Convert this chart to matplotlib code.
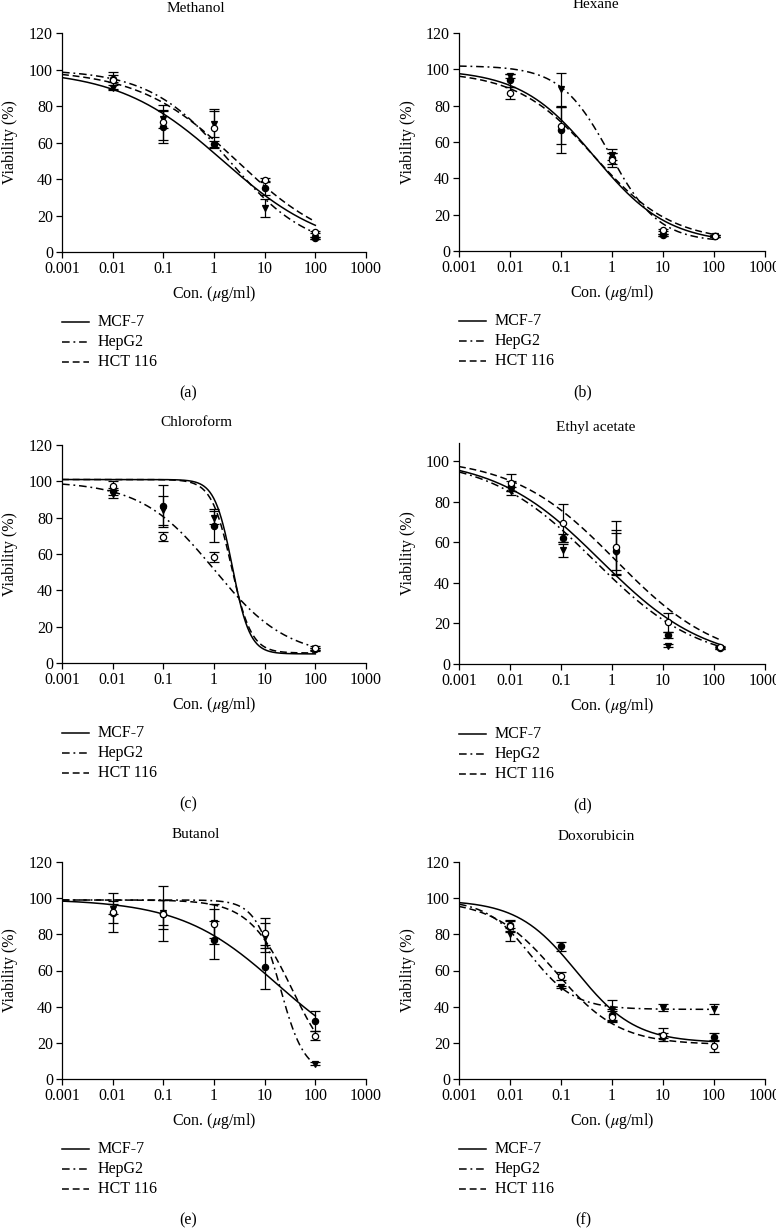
import numpy as np
import matplotlib
matplotlib.use("Agg")
import matplotlib.pyplot as plt
from matplotlib.lines import Line2D

plt.rcParams['font.family'] = ['Liberation Serif', 'DejaVu Serif']
plt.rcParams['mathtext.fontset'] = 'stix'

W, H = 776, 1229

cells = ["MCF-7", "HepG2", "HCT 116"]

# Methanol
meth_x = [0.01, 0.1, 1, 10, 100]
meth_mcf7 = [95, 68.5, 59, 35, 7.5]
meth_mcf7_err = [2, 9, 2, 4, 0.5]
meth_hepg2 = [90, 73, 70, 24, 7.5]
meth_hepg2_err = [1.5, 5, 7, 5, 0.5]
meth_hct = [94, 71, 68, 39.5, 11]
meth_hct_err = [4.5, 9.5, 10.5, 1, 0.5]
# fitted curves: top, bottom, IC50, hill
meth_fit_mcf7 = [100, 0, 1.5, 0.42]
meth_fit_hepg2 = [100, 0, 2.0, 0.55]
meth_fit_hct = [100, 0, 2.8, 0.45]

# Hexane
hex_x = [0.01, 0.1, 1, 10, 105]
hex_mcf7 = [94, 66.5, 51, 9, 8.3]
hex_mcf7_err = [3.5, 12.5, 3, 0.5, 0.5]
hex_hepg2 = [96.5, 89, 53, 9, 8.3]
hex_hepg2_err = [1, 9, 3, 0.5, 0.5]
hex_hct = [87, 69, 50, 11.6, 8.3]
hex_hct_err = [3.5, 10, 4, 0.5, 0.5]
hex_fit_mcf7 = [100, 4, 0.45, 0.6]
hex_fit_hepg2 = [102, 5, 0.9, 0.9]
hex_fit_hct = [99, 5, 0.45, 0.57]

# Chloroform
chl_x = [0.01, 0.1, 1, 100]
chl_mcf7 = [94.5, 86.5, 75.5, 7.5]
chl_mcf7_err = [2, 11.5, 9, 0.5]
chl_hepg2 = [93, 84, 80, 7.5]
chl_hepg2_err = [2, 8, 3.7, 0.5]
chl_hct = [97.5, 69.5, 58.5, 8]
chl_hct_err = [2.5, 2.5, 2.8, 1.5]
chl_fit_mcf7 = [101, 5, 2.3, 2.5]
chl_fit_hepg2 = [100, 3, 1.0, 0.6]
chl_fit_hct = [101, 5.5, 2.2, 2.2]

# Ethyl acetate
eth_x = [0.0105, 0.11, 1.2, 12.5, 130]
eth_mcf7 = [88, 62, 55.5, 14.5, 8]
eth_mcf7_err = [2.5, 2, 9, 1.5, 0.5]
eth_hepg2 = [85.5, 56, 55, 9, 8]
eth_hepg2_err = [2, 3, 11, 0.8, 0.5]
eth_hct = [89.5, 69.5, 57.5, 20.5, 8.5]
eth_hct_err = [4, 9.5, 13, 4.5, 0.5]
eth_fit_mcf7 = [102, 0, 0.6, 0.42]
eth_fit_hepg2 = [102, 0, 0.45, 0.42]
eth_fit_hct = [102, 0, 1.2, 0.43]

# Butanol
but_x = [0.01, 0.1, 1, 10, 100]
but_mcf7 = [92, 91.5, 77, 62, 32]
but_mcf7_err = [10.6, 15, 10.5, 12, 5.5]
but_hepg2 = [94, 92, 86, 78.5, 8.5]
but_hepg2_err = [3, 7, 8, 8, 1]
but_hct = [92.5, 91, 85.5, 81, 24]
but_hct_err = [6, 8, 11, 8.3, 2.5]
but_fit_mcf7 = [99.5, 5, 18, 0.45]
but_fit_hepg2 = [99, 3, 20, 1.8]
but_fit_hct = [99, 0, 35, 1.0]

# Doxorubicin
dox_x = [0.01, 0.1, 1, 10, 100]
dox_mcf7 = [85, 73.5, 35.5, 24, 23.5]
dox_mcf7_err = [3, 2.5, 3, 1.5, 2.2]
dox_hepg2 = [80, 51, 38, 39.5, 38.5]
dox_hepg2_err = [3.5, 0.5, 5.8, 1.8, 2.8]
dox_hct = [84.5, 57, 34.5, 24.5, 18]
dox_hct_err = [3, 2, 3, 3.5, 2.8]
dox_fit_mcf7 = [99, 20, 0.2, 0.75]
dox_fit_hepg2 = [99, 38.5, 0.025, 1.0]
dox_fit_hct = [99, 19, 0.08, 0.7]

panels = [
    ("Methanol", "(a)", meth_x, [meth_mcf7, meth_hepg2, meth_hct],
     [meth_mcf7_err, meth_hepg2_err, meth_hct_err], [meth_fit_mcf7, meth_fit_hepg2, meth_fit_hct]),
    ("Hexane", "(b)", hex_x, [hex_mcf7, hex_hepg2, hex_hct],
     [hex_mcf7_err, hex_hepg2_err, hex_hct_err], [hex_fit_mcf7, hex_fit_hepg2, hex_fit_hct]),
    ("Chloroform", "(c)", chl_x, [chl_mcf7, chl_hepg2, chl_hct],
     [chl_mcf7_err, chl_hepg2_err, chl_hct_err], [chl_fit_mcf7, chl_fit_hepg2, chl_fit_hct]),
    ("Ethyl acetate", "(d)", eth_x, [eth_mcf7, eth_hepg2, eth_hct],
     [eth_mcf7_err, eth_hepg2_err, eth_hct_err], [eth_fit_mcf7, eth_fit_hepg2, eth_fit_hct]),
    ("Butanol", "(e)", but_x, [but_mcf7, but_hepg2, but_hct],
     [but_mcf7_err, but_hepg2_err, but_hct_err], [but_fit_mcf7, but_fit_hepg2, but_fit_hct]),
    ("Doxorubicin", "(f)", dox_x, [dox_mcf7, dox_hepg2, dox_hct],
     [dox_mcf7_err, dox_hepg2_err, dox_hct_err], [dox_fit_mcf7, dox_fit_hepg2, dox_fit_hct]),
]

# axes boxes in pixels: left, right, top, bottom
boxes = [(62, 366, 33, 252), (459, 765, 33, 251),
         (62, 366, 445, 663), (459, 765, 443, 664),
         (62, 366, 862, 1079), (459, 765, 862, 1079)]
title_y = [8, 5, 422, 428, 835, 836]
ymax = [120, 120, 120, 109, 120, 120]

styles = ['-', (0, (5, 2.5, 1.2, 2.5)), (0, (4.5, 2.5))]
markers = ['o', 'v', 'o']
faces = ['black', 'black', 'white']
fs = 11.5


def logistic(x, top, bottom, ic50, hill):
    return bottom + (top - bottom) / (1 + (x / ic50) ** hill)


def fx(px):
    return px / W


def fy(py):
    return 1 - py / H


fig = plt.figure(figsize=(W / 100, H / 100), dpi=100)

for i, (name, tag, x, means, errs, fits) in enumerate(panels):
    l, r, t, b = boxes[i]
    ax = fig.add_axes([fx(l), fy(b), (r - l) / W, (b - t) / H])
    xc = np.logspace(-3, np.log10(x[-1]), 400)
    for k in range(3):
        ax.plot(xc, logistic(xc, *fits[k]), color='black', lw=1.1, linestyle=styles[k], zorder=2)
    for k in range(3):
        ax.errorbar(x, means[k], yerr=errs[k], fmt=markers[k], ms=4.5, mfc=faces[k], mec='black',
                    mew=0.9, ecolor='black', elinewidth=0.9, capsize=3.5, capthick=0.9, zorder=3)
    ax.set_xscale('log')
    ax.set_xlim(0.001, 1000)
    ax.set_ylim(0, ymax[i])
    ax.set_xticks([0.001, 0.01, 0.1, 1, 10, 100, 1000])
    ax.set_xticklabels(["0.001", "0.01", "0.1", "1", "10", "100", "1000"])
    ax.minorticks_off()
    ax.set_yticks(np.arange(0, ymax[i] + 1, 20))
    ax.tick_params(direction='out', length=4, width=0.9, labelsize=fs, pad=2.5)
    ax.spines['top'].set_visible(False)
    ax.spines['right'].set_visible(False)
    ax.spines['left'].set_linewidth(0.9)
    ax.spines['bottom'].set_linewidth(0.9)
    ax.patch.set_alpha(0)

    left_col = l < 300
    cx = (l + r) / 2
    fig.text(fx(196 if left_col else 596), fy(title_y[i]), name, ha='center', va='center', fontsize=fs - 0.5)
    fig.text(fx(10 if left_col else 408), fy((t + b) / 2), "Viability (%)", rotation=90,
             ha='center', va='center', fontsize=fs)
    fig.text(fx(cx), fy(b + 42), r"Con. ($\mu$g/ml)", ha='center', va='center', fontsize=fs)
    # legend
    for k in range(3):
        yy = fy(b + 70 + 20 * k)
        fig.add_artist(Line2D([fx(l), fx(l + 27)], [yy, yy], color='black', lw=1.1,
                              linestyle=styles[k], transform=fig.transFigure))
        fig.text(fx(l + 36), yy, cells[k], ha='left', va='center', fontsize=fs)
    fig.text(fx(188 if left_col else 583), fy(b + 141), tag, ha='center', va='center', fontsize=fs)

fig.savefig("out.png", dpi=100)
